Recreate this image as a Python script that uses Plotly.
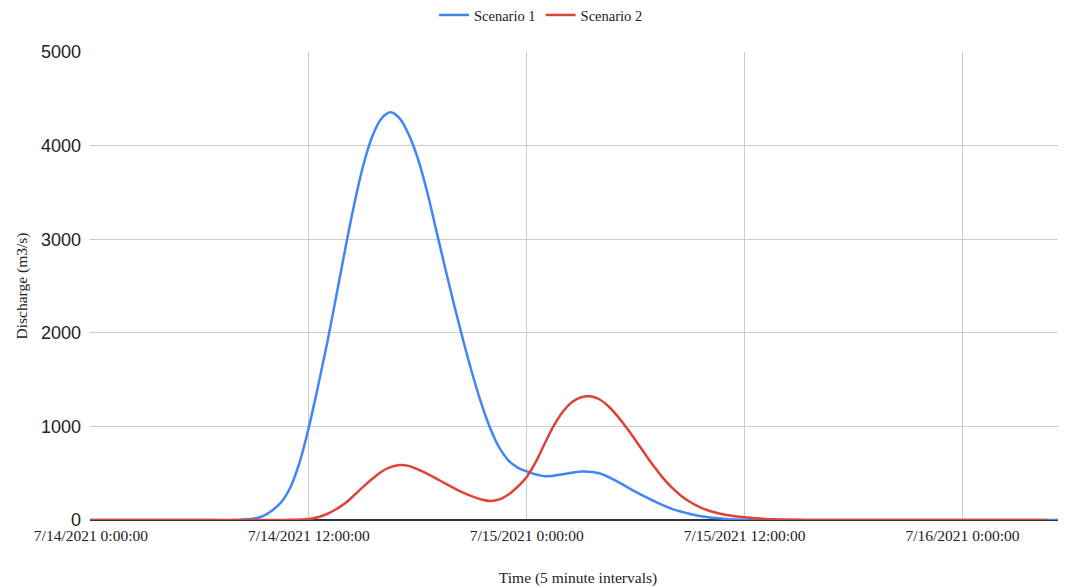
import plotly.graph_objects as go
import pandas as pd

# hours after 7/14/2021 0:00:00
hours_s1 = [0, 6, 8, 9, 9.5, 10, 10.5, 11, 11.5, 12, 12.5, 13, 13.5, 14, 14.5, 15, 15.5, 16, 16.5,
            17, 17.5, 18, 18.5, 19, 19.5, 20, 20.5, 21, 21.5, 22, 22.5, 23, 23.5, 24,
            25, 26, 27, 28, 29, 30, 31, 32, 33, 34, 35, 36, 37, 38, 45, 55]
scenario1 = [0, 0, 0, 15, 45, 105, 195, 355, 620, 990, 1420, 1880, 2380, 2890, 3370, 3790, 4100, 4290, 4355,
             4290, 4120, 3865, 3520, 3110, 2700, 2300, 1920, 1565, 1245, 975, 770, 635, 560, 520,
             468, 489, 518, 500, 409, 300, 203, 119, 65, 29, 11, 3, 0, 0, 0, 0]

hours_s2 = [0, 8, 10, 11, 12, 12.5, 13, 13.5, 14, 14.5, 15, 15.5, 16, 16.5, 17, 17.5, 18, 18.5,
            19, 19.5, 20, 20.5, 21, 21.5, 22, 22.5, 23, 23.5, 24, 24.5, 25, 25.5, 26, 26.5,
            27, 27.5, 28, 28.5, 29, 29.5, 30, 30.5, 31, 31.5, 32, 32.5, 33, 33.5, 34, 34.5, 35,
            36, 37, 38, 39, 40, 46, 52.7]
scenario2 = [0, 0, 0, 2, 10, 30, 64, 115, 178, 265, 356, 440, 516, 565, 587, 578, 541, 495,
             445, 392, 340, 292, 252, 220, 204, 220, 272, 355, 460, 620, 820, 1010, 1160, 1260,
             1312, 1322, 1290, 1215, 1110, 985, 850, 710, 575, 450, 345, 260, 192, 140, 101, 75, 54,
             29, 14, 6, 2, 0, 0, 0]

start = pd.Timestamp("2021-07-14 00:00:00")
x1 = [start + pd.Timedelta(hours=h) for h in hours_s1]
x2 = [start + pd.Timedelta(hours=h) for h in hours_s2]

tick_hours = [0, 12, 24, 36, 48]
tick_labels = ["7/14/2021 0:00:00", "7/14/2021 12:00:00", "7/15/2021 0:00:00",
               "7/15/2021 12:00:00", "7/16/2021 0:00:00"]
tick_vals = [start + pd.Timedelta(hours=h) for h in tick_hours]
y_ticks = [0, 1000, 2000, 3000, 4000, 5000]

fig = go.Figure()
fig.add_trace(go.Scatter(x=x1, y=scenario1, mode="lines", name="Scenario 1",
                         line=dict(color="#4285F4", width=2.5, shape="spline", smoothing=1)))
fig.add_trace(go.Scatter(x=x2, y=scenario2, mode="lines", name="Scenario 2",
                         line=dict(color="#DB4437", width=2.5, shape="spline", smoothing=1)))

fig.update_layout(
    width=1066, height=586,
    margin=dict(l=82, r=8, t=44, b=74),
    paper_bgcolor="white", plot_bgcolor="white",
    showlegend=True,
    legend=dict(orientation="h", xref="container", x=0.5, xanchor="center",
                yref="container", y=0.988, yanchor="middle",
                font=dict(family="Liberation Serif", size=14.5, color="#222")),
    font=dict(family="Liberation Serif", color="#222"),
)

fig.update_xaxes(
    type="date",
    range=[start - pd.Timedelta(hours=0.05), start + pd.Timedelta(hours=53.7)],
    tickvals=tick_vals, ticktext=tick_labels,
    tickfont=dict(family="Liberation Serif", size=15.5, color="#222"),
    ticklabelstandoff=4,
    showgrid=True, gridcolor="#cccccc", gridwidth=1,
    showline=False, zeroline=False, ticks="",
    title=dict(text="Time (5 minute intervals)", font=dict(family="Liberation Serif", size=15.5, color="#222"),
               standoff=29),
    automargin=False,
)
fig.update_yaxes(
    range=[0, 5000], tickvals=y_ticks,
    tickfont=dict(family="Liberation Sans", size=18, color="#222"),
    ticklabelstandoff=8,
    showgrid=True, gridcolor="#cccccc", gridwidth=1,
    zeroline=True, zerolinecolor="#333333", zerolinewidth=1.5,
    showline=False, ticks="",
    title=dict(text="Discharge (m3/s)", font=dict(family="Liberation Serif", size=15.5, color="#222"),
               standoff=9),
    automargin=False,
)

fig.write_html("out.html")
